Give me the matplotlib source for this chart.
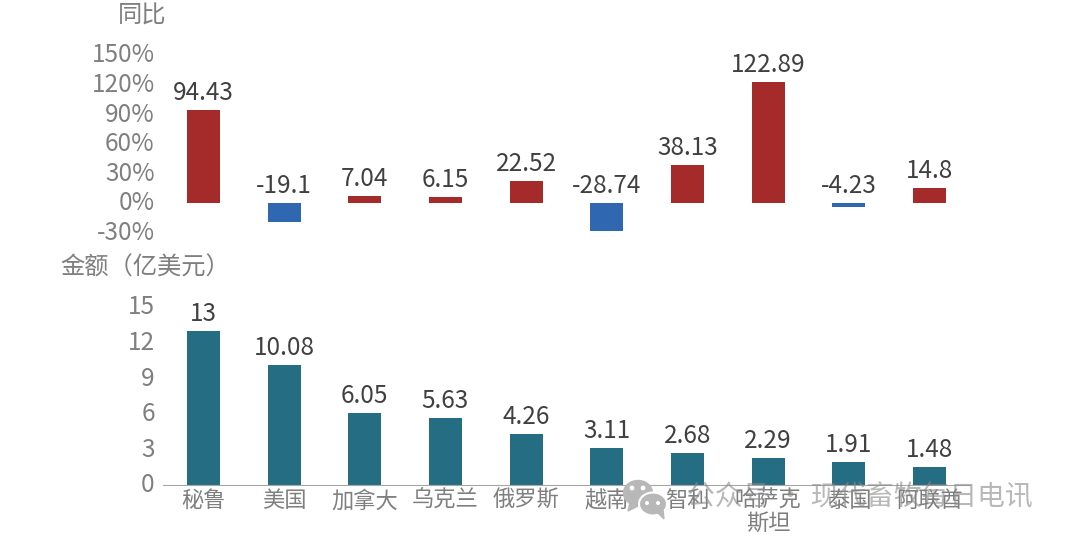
import matplotlib
matplotlib.use("Agg")
import matplotlib.pyplot as plt
from matplotlib.patches import Ellipse, Polygon
from matplotlib.transforms import ScaledTranslation

plt.rcParams['font.family'] = ['Noto Sans CJK SC', 'DejaVu Sans']

W, H = 1080, 541

countries = ["秘鲁", "美国", "加拿大", "乌克兰", "俄罗斯", "越南", "智利", "哈萨克\n斯坦", "泰国", "阿联酋"]
yoy = [94.43, -19.1, 7.04, 6.15, 22.52, -28.74, 38.13, 122.89, -4.23, 14.8]
amount = [13, 10.08, 6.05, 5.63, 4.26, 3.11, 2.68, 2.29, 1.91, 1.48]
yoy_labels = ["94.43", "-19.1", "7.04", "6.15", "22.52", "-28.74", "38.13", "122.89", "-4.23", "14.8"]
amount_labels = ["13", "10.08", "6.05", "5.63", "4.26", "3.11", "2.68", "2.29", "1.91", "1.48"]
yoy_ticks = [-30, 0, 30, 60, 90, 120, 150]
amount_ticks = [0, 3, 6, 9, 12, 15]

RED = "#a52a2a"
BLUE = "#2f67b1"
TEAL = "#256d82"
GREY = "#7f7f7f"
DARK = "#404040"

fig = plt.figure(figsize=(W / 100, H / 100), dpi=100)


def make_axes(left, top, right, bottom):
    return fig.add_axes([left / W, 1 - bottom / H, (right - left) / W, (bottom - top) / H])


def lift_ticklabels(ax, px):
    # 刻度文字比实际刻度位置略高
    offset = ScaledTranslation(0, px / 100, fig.dpi_scale_trans)
    for lab in ax.get_yticklabels():
        lab.set_transform(lab.get_transform() + offset)


# 同比
ax1 = make_axes(163, 55, 970, 232.5)
x = list(range(len(countries)))
colors = [RED if v >= 0 else BLUE for v in yoy]
ax1.bar(x, yoy, width=0.41, color=colors)
ax1.set_xlim(-0.5, 9.5)
ax1.set_ylim(-30, 150)
ax1.set_yticks(yoy_ticks)
ax1.set_yticklabels([f"{t}%" for t in yoy_ticks], fontsize=17.5, color=GREY)
ax1.set_xticks([])
for s in ax1.spines.values():
    s.set_visible(False)
ax1.tick_params(axis="y", length=0, pad=6)
lift_ticklabels(ax1, 2.5)
for i, v in enumerate(yoy):
    ax1.annotate(yoy_labels[i], (i, max(v, 0)), xytext=(0, 3), textcoords="offset points",
                 ha="center", va="bottom", fontsize=17.5, color=DARK)

# 金额
ax2 = make_axes(163, 307, 970, 485)
ax2.bar(x, amount, width=0.41, color=TEAL)
ax2.set_xlim(-0.5, 9.5)
ax2.set_ylim(0, 15)
ax2.set_yticks(amount_ticks)
ax2.set_yticklabels([str(t) for t in amount_ticks], fontsize=17.5, color=GREY)
ax2.set_xticks(x)
ax2.set_xticklabels(countries, fontsize=16, color=GREY, linespacing=1.0)
for s in ["top", "right", "left"]:
    ax2.spines[s].set_visible(False)
ax2.spines["bottom"].set_color("#a6a6a6")
ax2.tick_params(axis="y", length=0, pad=6)
ax2.tick_params(axis="x", length=0, pad=3)
lift_ticklabels(ax2, 2.5)
for i, v in enumerate(amount):
    ax2.annotate(amount_labels[i], (i, v), xytext=(0, 3), textcoords="offset points",
                 ha="center", va="bottom", fontsize=17.5, color=DARK)

fig.text(142 / W, 1 - 16 / H, "同比", fontsize=17.5, color=GREY, ha="center", va="center")
fig.text(60 / W, 1 - 268 / H, "金额（亿美元）", fontsize=17.5, color=GREY, ha="left", va="center")

# 水印
overlay = fig.add_axes([0, 0, 1, 1], facecolor="none")
overlay.set_xlim(0, W)
overlay.set_ylim(H, 0)
overlay.axis("off")
ICON = "#b8b8b8"
overlay.add_patch(Polygon([(630, 503), (628, 511), (638, 506)], color=ICON))
overlay.add_patch(Ellipse((638, 493), 29, 25, color=ICON))
overlay.add_patch(Ellipse((653, 504), 28, 23, facecolor=ICON, edgecolor="white", linewidth=1.5))
overlay.add_patch(Polygon([(658, 513), (664, 519), (663, 510)], color=ICON))
for ex, ey, r in [(632, 488, 3.4), (643, 488, 3.4), (647, 503, 2.6), (658, 503, 2.6)]:
    overlay.add_patch(Ellipse((ex, ey), r, r, color="white"))
fig.text(860 / W, 1 - 497 / H, "公众号 · 现代畜牧每日电讯", fontsize=20, color="#8a8a8a",
         alpha=0.6, ha="center", va="center")

fig.savefig("out.png", dpi=100)
